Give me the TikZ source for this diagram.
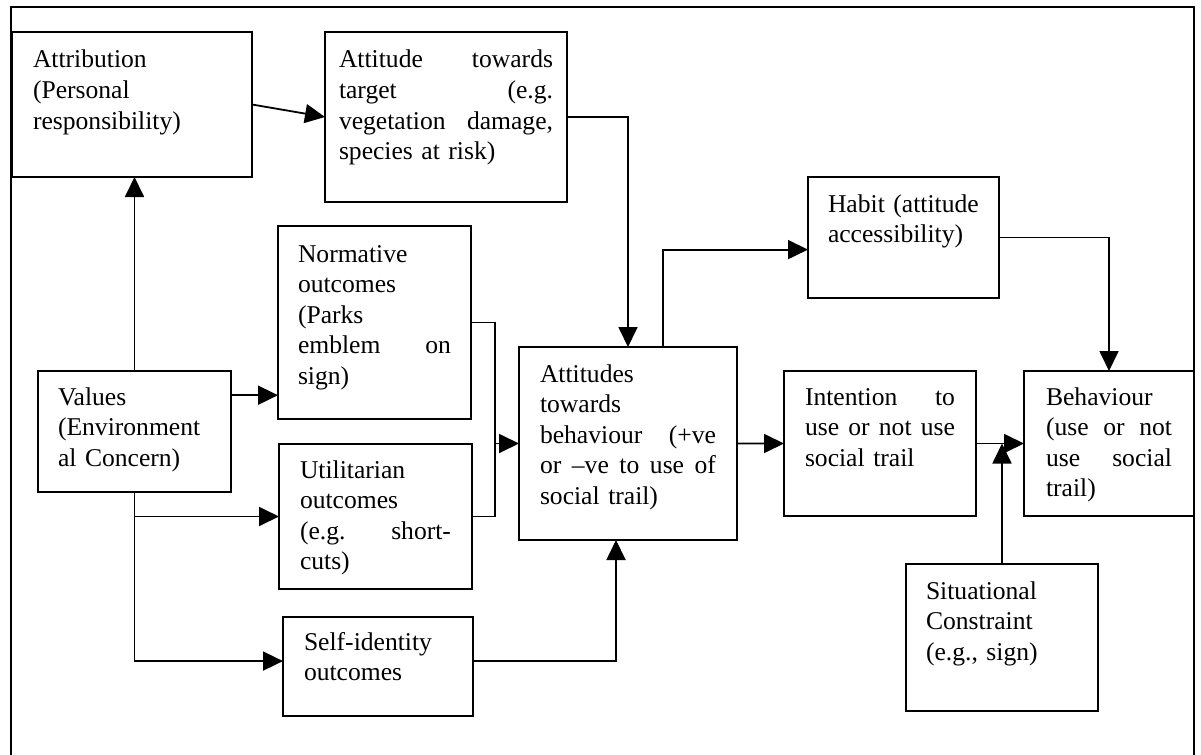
\documentclass[tikz,border=0pt]{standalone}
\usepackage{fontspec}
\setmainfont{Liberation Serif}
\usetikzlibrary{arrows.meta,calc}
\begin{document}
\begin{tikzpicture}[x=1bp,y=-1bp,
  box/.style={draw, line width=1.8bp, anchor=north west, align=left,
    inner ysep=0pt, outer sep=0pt,
    font={\fontsize{25.6bp}{30.5bp}\selectfont}},
  link/.style={line width=1.8bp},
  arr/.style={link, -{Triangle[length=20bp,width=19bp]}}]
\useasboundingbox (0,0) rectangle (1201,755);

% outer frame, open at the bottom
\draw[link] (11,760) -- (11,7) -- (1194,7) -- (1194,760);

% boxes (justified lines are spread with \hfill)
\node[box, inner xsep=21bp, text width=198bp, text height=36bp, text depth=109bp]
  (attr) at (12,32) {Attribution\\(Personal\\responsibility)};
\node[box, inner xsep=14bp, text width=214bp, text height=36bp, text depth=134bp]
  (targ) at (325,32) {Attitude\hfill towards\\target\hfill (e.g.\\vegetation\hfill damage,\\species at risk)};
\node[box, inner xsep=20bp, text width=151bp, text height=35bp, text depth=86bp]
  (habit) at (808,177) {Habit (attitude\\accessibility)};
\node[box, inner xsep=20bp, text width=153bp, text height=36bp, text depth=157bp]
  (norm) at (278,226) {Normative\\outcomes\\(Parks\\emblem\hfill on\\sign)};
\node[box, inner xsep=20bp, text width=153bp, text height=34bp, text depth=87bp]
  (values) at (38,371) {Values\\(Environment\\al Concern)};
\node[box, inner xsep=21bp, text width=151bp, text height=34bp, text depth=111bp]
  (util) at (279,444) {Utilitarian\\outcomes\\(e.g.\hfill short-\\cuts)};
\node[box, inner xsep=21bp, text width=176bp, text height=35bp, text depth=158bp]
  (attb) at (519,347) {Attitudes\\towards\\behaviour\hfill (+ve\\or\hfill –ve\hfill to\hfill use\hfill of\\social trail)};
\node[box, inner xsep=21bp, text width=150bp, text height=34bp, text depth=111bp]
  (intent) at (784,371) {Intention\hfill to\\use\hfill or\hfill not\hfill use\\social trail};
\node[box, inner xsep=22bp, text width=126bp, text height=34bp, text depth=111bp]
  (behav) at (1024,371) {Behaviour\\(use\hfill or\hfill not\\use\hfill social\\trail)};
\node[box, inner xsep=20bp, text width=152bp, text height=35bp, text depth=112bp]
  (sit) at (906,564) {Situational\\Constraint\\(e.g., sign)};
\node[box, inner xsep=21bp, text width=148bp, text height=33bp, text depth=66bp]
  (self) at (283,617) {Self-identity\\outcomes};

% connectors
\draw[arr] (attr.east) -- (targ.west);
\draw[arr] (targ.east) -| (attb.north);
\draw[arr] ($(attb.north west)!0.66!(attb.north east)$) |- ($(habit.north west)!0.6!(habit.south west)$);
\draw[arr] (habit.east) -| (behav.north);
\draw[arr] (attb.east) -- (intent.west);
\draw[arr] (intent.east) -- (behav.west);
\draw[arr] (sit.north) -- (sit.north |- intent.east);

\coordinate (mrg) at ($(attb.west)+(-24,0)$);
\draw[link] (norm.east) -| (mrg);
\draw[link] (util.east) -| (mrg);
\draw[arr] (mrg) -- (attb.west);

\draw[arr] ($(self.north east)!0.445!(self.south east)$) -| ($(attb.south west)!0.445!(attb.south east)$);

\draw[arr] (values.north) -- (values.north |- attr.south);
\coordinate (vn) at ($(values.north east)!0.2!(values.south east)$);
\draw[arr] (vn) -- (vn -| norm.west);
\draw[arr] (values.south) |- (util.west);
\draw[arr] (values.south) |- ($(self.north west)!0.445!(self.south west)$);
\end{tikzpicture}
\end{document}
